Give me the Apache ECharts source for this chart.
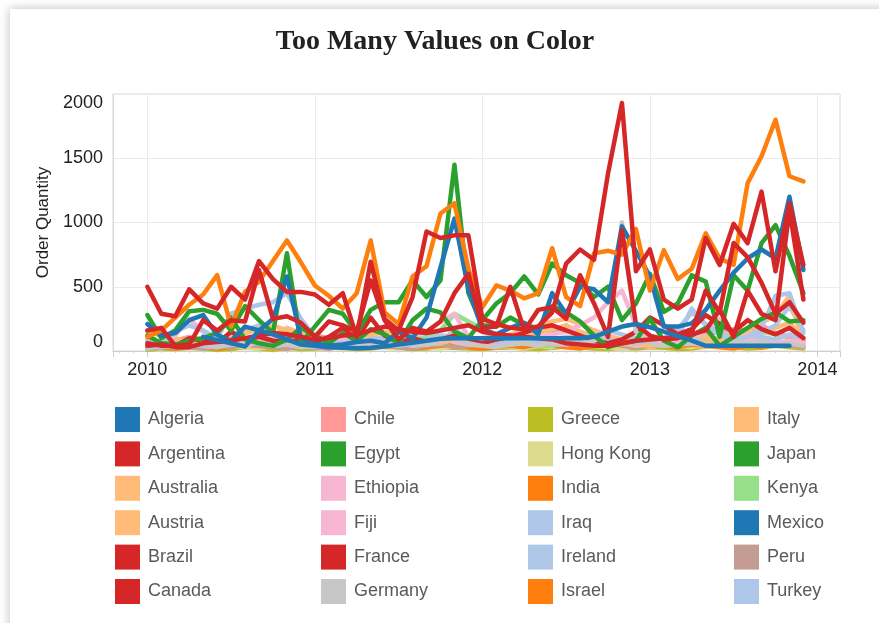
<!DOCTYPE html>
<html>
<head>
<meta charset="utf-8">
<script src="https://cdn.jsdelivr.net/npm/echarts@6/dist/echarts.min.js"></script>
<style>
  html, body { margin: 0; padding: 0; background: #fff; }
  .card {
    position: absolute; left: 10px; top: 9px; width: 900px; height: 700px;
    background: #fff; box-shadow: 0 0 9px 1px rgba(0, 0, 0, 0.22);
  }
  #main { position: absolute; left: 0; top: 0; width: 879px; height: 623px; }
</style>
</head>
<body>
<div class="card"></div>
<div id="main"></div>
<script>
// monthly order quantity, Jan 2010 .. Dec 2013
const firstYear = 2010;

const algeria = [210, 120, 140, 240, 280, 125, 80, 190, 160, 250, 580, 100, 60, 40, 50, 70, 80, 60, 150, 100, 260, 650, 1030, 480, 170, 130, 180, 220, 130, 450, 290, 500, 480, 380, 970, 780, 580, 190, 190, 215, 320, 470, 610, 720, 790, 720, 1200, 630];
const argentina = [60, 40, 40, 100, 80, 60, 150, 90, 110, 80, 70, 90, 60, 110, 180, 90, 260, 120, 60, 100, 70, 90, 120, 80, 60, 90, 110, 140, 180, 200, 160, 120, 80, 60, 90, 150, 260, 200, 130, 170, 280, 210, 150, 240, 170, 130, 180, 100];
const australia = [150, 120, 100, 60, 90, 70, 140, 100, 80, 120, 180, 140, 110, 90, 70, 100, 130, 150, 120, 90, 70, 100, 120, 90, 70, 60, 80, 100, 140, 170, 200, 150, 110, 80, 60, 50, 40, 60, 90, 130, 110, 90, 70, 100, 140, 180, 220, 100];
const austria = [20, 30, 40, 30, 50, 40, 30, 60, 50, 40, 30, 50, 40, 30, 50, 70, 40, 30, 50, 40, 30, 60, 50, 40, 30, 50, 40, 60, 50, 40, 30, 50, 40, 60, 50, 40, 30, 50, 70, 40, 30, 60, 50, 40, 70, 50, 40, 30];
const brazil = [160, 180, 40, 50, 240, 160, 240, 230, 630, 250, 270, 220, 110, 230, 200, 150, 550, 240, 90, 180, 150, 230, 450, 600, 180, 190, 500, 160, 320, 340, 250, 590, 370, 110, 940, 210, 120, 90, 100, 130, 160, 320, 110, 470, 290, 240, 1100, 400];
const canada = [500, 290, 270, 480, 370, 330, 500, 400, 700, 560, 460, 460, 440, 360, 450, 110, 695, 250, 160, 420, 930, 880, 900, 900, 250, 210, 180, 170, 190, 300, 680, 790, 710, 1380, 1930, 620, 790, 400, 330, 400, 880, 670, 990, 840, 1240, 620, 1150, 670];
const chile = [40, 60, 80, 110, 90, 70, 60, 80, 100, 70, 60, 90, 120, 100, 80, 60, 70, 90, 80, 60, 50, 70, 90, 60, 50, 40, 60, 70, 50, 60, 80, 70, 90, 60, 50, 70, 80, 60, 90, 110, 130, 150, 170, 160, 200, 140, 110, 90];
const egypt = [280, 100, 160, 310, 320, 290, 160, 350, 240, 140, 760, 60, 190, 320, 290, 140, 320, 380, 380, 550, 420, 550, 1450, 450, 200, 190, 260, 200, 180, 350, 300, 230, 120, 30, 60, 80, 250, 80, 30, 120, 180, 40, 110, 180, 250, 300, 230, 240];
const ethiopia = [60, 80, 120, 250, 150, 100, 80, 60, 90, 120, 100, 80, 60, 70, 90, 80, 60, 80, 100, 120, 150, 230, 290, 110, 80, 60, 70, 90, 110, 130, 150, 200, 260, 380, 470, 200, 90, 60, 70, 100, 160, 250, 130, 90, 70, 60, 80, 70];
const fiji = [30, 50, 70, 40, 60, 110, 50, 40, 70, 90, 60, 40, 50, 70, 40, 60, 90, 50, 40, 60, 80, 100, 70, 50, 40, 60, 50, 70, 90, 60, 50, 80, 120, 90, 60, 40, 50, 70, 60, 90, 110, 80, 60, 140, 100, 70, 60, 50];
const france = [40, 50, 30, 30, 60, 70, 80, 100, 120, 140, 130, 110, 90, 100, 120, 130, 160, 190, 170, 150, 140, 160, 180, 200, 150, 130, 120, 110, 100, 90, 60, 50, 40, 40, 60, 80, 90, 100, 110, 140, 470, 300, 840, 730, 530, 290, 380, 220];
const germany = [30, 50, 40, 30, 60, 40, 50, 70, 60, 40, 50, 30, 40, 60, 50, 40, 30, 50, 60, 40, 50, 80, 100, 60, 40, 30, 50, 60, 40, 70, 60, 50, 80, 120, 1000, 150, 60, 40, 50, 60, 40, 50, 70, 60, 80, 50, 60, 40];
const greece = [10, 20, 15, 25, 20, 10, 15, 30, 20, 10, 25, 15, 20, 30, 25, 15, 20, 35, 25, 15, 20, 30, 25, 20, 15, 25, 30, 20, 15, 25, 35, 30, 20, 15, 25, 20, 30, 25, 15, 20, 35, 45, 30, 20, 25, 40, 30, 20];
const hongKong = [30, 20, 40, 30, 20, 50, 40, 30, 20, 40, 30, 60, 40, 30, 20, 40, 50, 30, 20, 40, 30, 20, 40, 30, 50, 40, 30, 20, 40, 30, 60, 50, 40, 30, 20, 40, 30, 50, 40, 30, 60, 50, 40, 70, 90, 60, 40, 30];
const india = [110, 160, 260, 360, 440, 590, 190, 460, 540, 700, 860, 690, 510, 430, 330, 450, 860, 300, 210, 580, 660, 1070, 1150, 640, 340, 510, 470, 410, 450, 800, 420, 350, 760, 780, 750, 950, 470, 785, 560, 640, 915, 720, 670, 1305, 1515, 1800, 1360, 1320];
const iraq = [40, 30, 70, 50, 60, 80, 120, 160, 200, 150, 100, 60, 50, 80, 100, 60, 40, 70, 90, 60, 80, 110, 90, 60, 100, 120, 90, 70, 60, 80, 100, 90, 120, 160, 130, 100, 70, 90, 110, 330, 200, 150, 110, 90, 140, 200, 350, 160];
const ireland = [20, 40, 30, 60, 40, 30, 50, 70, 60, 90, 70, 40, 30, 50, 40, 60, 80, 60, 40, 70, 50, 60, 170, 90, 60, 40, 50, 70, 90, 60, 50, 80, 70, 60, 90, 70, 50, 60, 80, 70, 120, 90, 60, 80, 110, 90, 130, 80];
const israel = [20, 30, 20, 40, 30, 20, 30, 50, 40, 30, 20, 40, 30, 20, 40, 30, 50, 40, 30, 20, 30, 40, 50, 30, 20, 30, 40, 30, 50, 40, 30, 20, 40, 60, 50, 80, 60, 40, 30, 50, 40, 30, 20, 40, 30, 50, 60, 40];
const italy = [80, 40, 60, 90, 60, 50, 110, 140, 170, 200, 160, 110, 70, 90, 60, 80, 120, 90, 60, 70, 80, 60, 90, 110, 80, 100, 130, 160, 190, 230, 250, 210, 160, 120, 90, 70, 60, 80, 110, 70, 60, 90, 130, 160, 220, 280, 430, 60];
const japan = [120, 60, 50, 80, 100, 140, 260, 90, 60, 40, 90, 180, 120, 60, 140, 80, 170, 130, 60, 240, 330, 300, 150, 100, 240, 370, 450, 580, 440, 680, 590, 530, 420, 500, 240, 370, 600, 305, 370, 590, 540, 110, 590, 470, 840, 980, 740, 450];
const kenya = [20, 40, 30, 50, 40, 30, 50, 70, 60, 40, 50, 30, 40, 60, 50, 40, 60, 80, 70, 90, 110, 160, 290, 230, 170, 110, 80, 60, 50, 40, 60, 50, 40, 60, 50, 70, 60, 40, 50, 60, 80, 70, 90, 110, 150, 130, 100, 80];
const mexico = [null, null, null, null, 110, 85, 60, 35, 160, 130, 90, 50, 40, 30, 25, 22, 25, 35, 50, 65, 80, 95, 100, 100, 100, 100, 100, 100, 100, 100, 100, 100, 110, 150, 190, 210, 185, 150, 115, 80, 40, 40, 40, 40, 40, 40, 40, null];
const peru = [20, 30, 40, 30, 20, 40, 30, 50, 40, 30, 20, 40, 30, 20, 40, 30, 50, 40, 30, 20, 40, 50, 30, 40, 60, 80, 100, 70, 90, 140, 200, 120, 80, 60, 40, 30, 40, 50, 40, 60, 80, 70, 50, 40, 60, 50, 40, 30];
const turkey = [90, 60, 150, 200, 160, 100, 290, 330, 360, 380, 450, 250, 110, 70, 60, 80, 90, 110, 60, 50, 90, 120, 110, 80, 60, 70, 80, 60, 50, 90, 110, 100, 130, 90, 70, 60, 80, 100, 170, 300, 210, 120, 90, 110, 180, 430, 450, 140];

const countries = [
  { name: 'Algeria', color: '#1f77b4', values: algeria },
  { name: 'Argentina', color: '#d62728', values: argentina },
  { name: 'Australia', color: '#ffbb78', values: australia },
  { name: 'Austria', color: '#ffbb78', values: austria },
  { name: 'Brazil', color: '#d62728', values: brazil },
  { name: 'Canada', color: '#d62728', values: canada },
  { name: 'Chile', color: '#ff9896', values: chile },
  { name: 'Egypt', color: '#2ca02c', values: egypt },
  { name: 'Ethiopia', color: '#f7b6d2', values: ethiopia },
  { name: 'Fiji', color: '#f7b6d2', values: fiji },
  { name: 'France', color: '#d62728', values: france },
  { name: 'Germany', color: '#c7c7c7', values: germany },
  { name: 'Greece', color: '#bcbd22', values: greece },
  { name: 'Hong Kong', color: '#dbdb8d', values: hongKong },
  { name: 'India', color: '#ff7f0e', values: india },
  { name: 'Iraq', color: '#aec7e8', values: iraq },
  { name: 'Ireland', color: '#aec7e8', values: ireland },
  { name: 'Israel', color: '#ff7f0e', values: israel },
  { name: 'Italy', color: '#ffbb78', values: italy },
  { name: 'Japan', color: '#2ca02c', values: japan },
  { name: 'Kenya', color: '#98df8a', values: kenya },
  { name: 'Mexico', color: '#1f77b4', values: mexico },
  { name: 'Peru', color: '#c49c94', values: peru },
  { name: 'Turkey', color: '#aec7e8', values: turkey }
];

// drawing order, back to front
const drawOrder = ['Greece', 'Hong Kong', 'Austria', 'Israel', 'Peru', 'Kenya', 'Chile', 'Fiji', 'Ireland',
  'Australia', 'Iraq', 'Italy', 'Ethiopia', 'Turkey', 'Argentina', 'Germany', 'Japan', 'Egypt', 'Algeria',
  'India', 'France', 'Brazil', 'Canada', 'Mexico'];

const legendColumns = [
  ['Algeria', 'Argentina', 'Australia', 'Austria', 'Brazil', 'Canada'],
  ['Chile', 'Egypt', 'Ethiopia', 'Fiji', 'France', 'Germany'],
  ['Greece', 'Hong Kong', 'India', 'Iraq', 'Ireland', 'Israel'],
  ['Italy', 'Japan', 'Kenya', 'Mexico', 'Peru', 'Turkey']
];
const legendLeft = [115, 321, 528, 734];

const chartDom = document.getElementById('main');
const myChart = echarts.init(chartDom, null, { renderer: 'canvas' });

const textFont = 'Liberation Sans, Arial, sans-serif';

const series = drawOrder.map(function (name) {
  const c = countries.find(function (d) { return d.name === name; });
  return {
    name: c.name,
    type: 'line',
    symbol: 'none',
    showSymbol: false,
    connectNulls: false,
    color: c.color,
    itemStyle: { color: c.color },
    lineStyle: { color: c.color, width: 4.5, join: 'round', cap: 'round' },
    emphasis: { disabled: true },
    data: c.values.map(function (v, i) {
      return [firstYear + i / 12, v];
    })
  };
});

const legends = legendColumns.map(function (col, i) {
  return {
    orient: 'vertical',
    left: legendLeft[i],
    top: 407,
    padding: 0,
    icon: 'rect',
    itemWidth: 25,
    itemHeight: 25,
    itemGap: 9.4,
    selectedMode: false,
    itemStyle: { borderWidth: 0 },
    textStyle: { fontSize: 18, color: '#5a5a5a', fontFamily: textFont, padding: [2, 0, 0, 3] },
    data: col
  };
});

const myChartOption = {
  backgroundColor: 'transparent',
  animation: false,
  title: {
    text: 'Too Many Values on Color',
    left: 435,
    top: 28,
    padding: 0,
    textAlign: 'center',
    textStyle: { fontFamily: 'Liberation Serif, serif', fontWeight: 'bold', fontSize: 28, color: '#222' }
  },
  legend: legends,
  grid: {
    left: 113, right: 39, top: 94, bottom: 272,
    containLabel: false,
    outerBoundsMode: 'none',
    show: true,
    borderColor: '#d9d9d9',
    borderWidth: 1
  },
  xAxis: {
    type: 'value',
    min: 2009.795,
    max: 2014.135,
    axisLine: { show: true, lineStyle: { color: '#cfcfcf', width: 1 } },
    axisTick: { show: true, length: 6, lineStyle: { color: '#cfcfcf' } },
    minorTick: { show: true, splitNumber: 12, length: 2, lineStyle: { color: '#cfcfcf' } },
    splitLine: { show: true, lineStyle: { color: '#ebebeb', width: 1 } },
    axisLabel: {
      fontSize: 18, color: '#222', fontFamily: textFont, margin: 10,
      showMinLabel: false, showMaxLabel: false,
      formatter: function (v) {
        return Math.abs(v - Math.round(v)) < 1e-6 ? String(Math.round(v)) : '';
      }
    }
  },
  yAxis: {
    type: 'value',
    min: 0,
    max: 2000,
    interval: 500,
    name: 'Order Quantity',
    nameLocation: 'middle',
    nameGap: 61,
    nameTextStyle: { fontSize: 17, color: '#222', fontFamily: textFont },
    axisLine: { show: true, lineStyle: { color: '#d9d9d9' } },
    axisTick: { show: false },
    splitLine: { show: true, lineStyle: { color: '#ebebeb', width: 1 } },
    axisLabel: {
      fontSize: 18, color: '#222', fontFamily: textFont, margin: 10,
      verticalAlignMinLabel: 'bottom',
      verticalAlignMaxLabel: 'top',
      formatter: function (v) { return String(v); }
    }
  },
  tooltip: { show: false },
  series: series
};

myChartOption && myChart.setOption(myChartOption);
</script>
</body>
</html>
